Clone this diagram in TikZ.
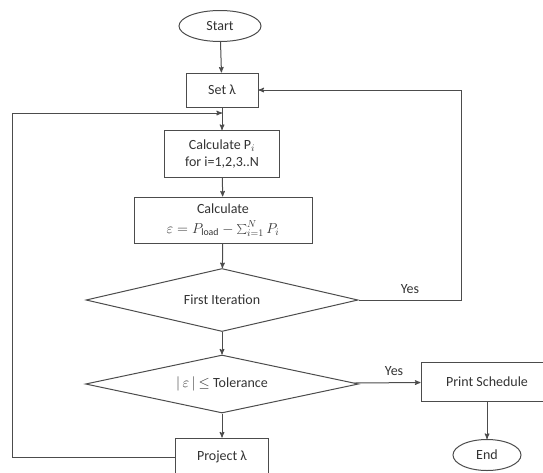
\documentclass[tikz,border=0pt]{standalone}
\usepackage{fontspec}
\setmainfont{Carlito}
\usetikzlibrary{shapes.geometric,arrows}

\begin{document}
\begin{tikzpicture}[x=1pt, y=-1pt]
    \useasboundingbox (0,0) rectangle (543,472);
    \tikzset{BlockStyle/.style={draw=black!70, line width=1pt, rectangle, inner sep=0pt,
        text=black!80, align=center, font=\fontsize{14}{17}\selectfont}}
    \tikzset{TerminalStyle/.style={BlockStyle, ellipse}}
    \tikzset{DecisionStyle/.style={BlockStyle, diamond, aspect=4.3}}
    \tikzset{EdgeStyle/.style={draw=black!70, line width=1pt, ->, >=stealth'}}
    \tikzset{LabelStyle/.style={text=black!80, font=\fontsize{14}{16}\selectfont, above=3pt}}

    \node[TerminalStyle, minimum width=82, minimum height=31] (start) at (220,26) {Start};
    \node[BlockStyle, minimum width=72, minimum height=34] (setl) at (222,90) {Set λ};
    \node[BlockStyle, minimum width=115, minimum height=47] (calcp) at (222,154)
        {Calculate P$_i$\\for i=1,2,3..N};
    \node[BlockStyle, minimum width=178, minimum height=46] (calce) at (223,220)
        {Calculate\\[3pt]$\varepsilon = P_{\mathrm{load}} - \sum_{i=1}^{N} P_i$};

    \node[DecisionStyle, minimum width=272, minimum height=63] (first) at (222,300) {First Iteration};
    \node[DecisionStyle, minimum width=273, minimum height=58] (tol) at (222,384)
        {$|\,\varepsilon\,|$ $\leq$ Tolerance};

    \node[BlockStyle, minimum width=93, minimum height=38] (project) at (222,457) {Project λ};
    \node[BlockStyle, minimum width=132, minimum height=39] (print) at (487,382) {Print Schedule};
    \node[TerminalStyle, minimum width=68, minimum height=31] (finish) at (487,455) {End};

    \coordinate (join) at (222,113);

    \draw[EdgeStyle] (start) -- (setl);
    \draw[EdgeStyle] (setl) -- (calcp);
    \draw[EdgeStyle] (calcp) -- (calce);
    \draw[EdgeStyle] (calce) -- (first);
    \draw[EdgeStyle] (first) -- (tol);
    \draw[EdgeStyle] (tol) -- (project);
    \draw[EdgeStyle] (print) -- (finish);

    \draw[EdgeStyle] (tol) -- node[pos=0.6, LabelStyle] {Yes} (print);
    \draw[EdgeStyle] (first.east) -- node[pos=0.5, LabelStyle] {Yes} ++(103,0) |- (setl.east);
    \draw[EdgeStyle] (project.west) -- ++(-163,0) |- (join);
\end{tikzpicture}
\end{document}
